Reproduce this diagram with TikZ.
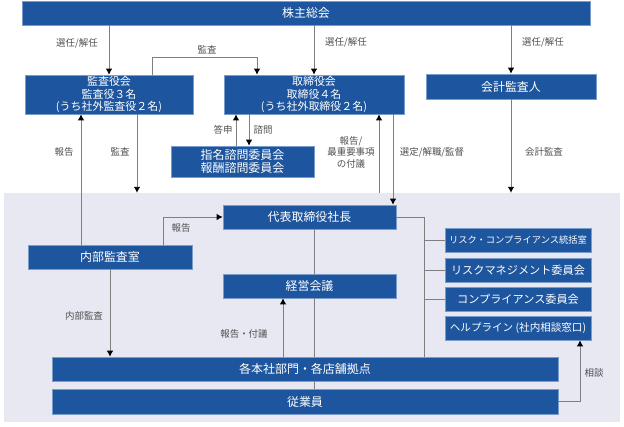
\documentclass[tikz,border=0pt]{standalone}
\usepackage{fontspec}
\newfontfamily\jp{Noto Sans CJK JP}
\usepackage{tikz}
\usetikzlibrary{arrows.meta, positioning}

\definecolor{boxblue}{HTML}{1D559E}
\definecolor{boxedge}{HTML}{7A9CCB}
\definecolor{arealav}{HTML}{E7E8F2}
\definecolor{linegray}{HTML}{7F7F7F}
\definecolor{labelgray}{HTML}{505050}

\tikzset{
  orgbox/.style={draw=boxedge, line width=0.6bp, fill=boxblue, text=white,
    align=center, inner sep=0pt, font=\jp\fontsize{12}{13}\selectfont},
  multibox/.style={orgbox, font=\jp\fontsize{11}{12.5}\selectfont},
  conn/.style={draw=linegray, line width=0.9bp},
  arr/.style={conn, -{Latex[length=6bp,width=6.5bp,color=black]}},
  lbl/.style={text=labelgray, align=center, inner sep=0pt,
    font=\jp\fontsize{9.5}{11.5}\selectfont}
}

\begin{document}
\begin{tikzpicture}[x=1bp, y=-1bp]
  \useasboundingbox (0,0) rectangle (624,426);

  % company area
  \node[fill=arealav, minimum width=616bp, minimum height=229bp, inner sep=0pt] (area) at (312,307.5) {};

  \node[orgbox, minimum width=568bp, minimum height=24bp] (kabunushi) at (306,13) {株主総会};
  \node[multibox, minimum width=168bp, minimum height=39bp] (kansayaku) at (109,94.5) {監査役会\\監査役３名\\(うち社外監査役２名)};
  \node[multibox, minimum width=180bp, minimum height=39bp] (torishimari) at (314,94.5) {取締役会\\取締役４名\\(うち社外取締役２名)};
  \node[orgbox, minimum width=170bp, minimum height=25bp] (kaikei) at (511,86.5) {会計監査人};
  \node[orgbox, minimum width=143bp, minimum height=31bp] (shimon) at (242.5,161.5) {指名諮問委員会\\報酬諮問委員会};
  \node[orgbox, minimum width=173bp, minimum height=24bp] (shacho) at (309.5,217) {代表取締役社長};
  \node[orgbox, minimum width=164bp, minimum height=24bp] (naibu) at (110,257) {内部監査室};
  \node[orgbox, minimum width=173bp, minimum height=24bp] (keiei) at (309.5,286) {経営会議};
  \node[orgbox, minimum width=506bp, minimum height=24bp] (kakubumon) at (305,369) {各本社部門・各店舗拠点};
  \node[orgbox, minimum width=506bp, minimum height=25bp] (jugyoin) at (305,401.5) {従業員};

  \foreach \nm/\y/\sz/\txt in {risk/240/9.3/リスク・コンプライアンス統括室, rm/270/11.2/リスクマネジメント委員会,
      comp/299/11.2/コンプライアンス委員会, help/328/10.6/ヘルプライン (社内相談窓口)}
  {
    \node[orgbox, minimum width=146bp, minimum height=24bp, font=\jp\fontsize{\sz}{13}\selectfont] (\nm) at (518,\y) {\txt};
  }

  % x positions of the vertical connectors
  \coordinate (kansaout) at (152,0);
  \coordinate (kansain) at (257,0);
  \coordinate (hokokuA) at (81,0);
  \coordinate (kansaB) at (137,0);
  \coordinate (toshin) at (236,0);
  \coordinate (shimonx) at (249,0);
  \coordinate (hokokuC) at (379,0);
  \coordinate (sentei) at (393,0);
  \coordinate (hokokuD) at (163,0);
  \coordinate (fugi) at (283,0);
  \coordinate (spine) at (314,0);
  \coordinate (branch) at (424,0);
  \coordinate (sodan) at (580,0);

  \draw[arr] (kabunushi.south -| kansayaku) -- (kansayaku.north);
  \draw[arr] (kabunushi.south -| torishimari) -- (torishimari.north);
  \draw[arr] (kabunushi.south -| kaikei) -- (kaikei.north);
  \draw[arr] (kansaout |- kansayaku.north) -- ++(0,-17) -| (kansain |- torishimari.north);

  \draw[arr] (toshin |- shimon.north) -- (toshin |- torishimari.south);
  \draw[arr] (shimonx |- torishimari.south) -- (shimonx |- shimon.north);

  \draw[arr] (hokokuA |- naibu.north) -- (hokokuA |- kansayaku.south);
  \draw[arr] (kansaB |- kansayaku.south) -- (kansaB |- area.north);
  \draw[arr] (hokokuC |- area.north) -- (hokokuC |- torishimari.south);
  \draw[arr] (sentei |- torishimari.south) -- (sentei |- shacho.north);
  \draw[arr] (kaikei.south) -- (kaikei.south |- area.north);

  \draw[arr] (hokokuD |- naibu.north) |- (shacho.west);
  \draw[arr] (naibu.south) -- (naibu.south |- kakubumon.north);
  \draw[arr] (fugi |- kakubumon.north) -- (fugi |- keiei.south);

  \draw[conn] (spine |- shacho.south) -- (spine |- keiei.north);
  \draw[conn] (spine |- keiei.south) -- (spine |- kakubumon.north);
  \draw[conn] (spine |- kakubumon.south) -- (spine |- jugyoin.north);

  \draw[conn] (shacho.east) -- (branch |- shacho.east) -- (branch |- kakubumon.north);
  \foreach \nm in {risk, rm, comp}
    \draw[conn] (branch |- \nm.west) -- (\nm.west);

  \draw[arr] (jugyoin.east) -| (sodan |- help.south);

  % labels
  \node[lbl] (senninA) at (77,43) {選任/解任};
  \node[lbl] (senninB) at (346,42) {選任/解任};
  \node[lbl] (senninC) at (543,42) {選任/解任};
  \node[lbl] (kansaT) at (207,50) {監査};
  \node[lbl] (toshinL) at (223,129.5) {答申};
  \node[lbl] (shimonL) at (263,129.5) {諮問};
  \node[lbl] (hokokuAL) at (64,152) {報告};
  \node[lbl] (kansaBL) at (120,152) {監査};
  \node[lbl] (hokokuCL) at (351,152) {報告/\\最重要事項\\の付議};
  \node[lbl] (senteiL) at (432,152) {選定/解職/監督};
  \node[lbl] (kaikeiL) at (544,152) {会計監査};
  \node[lbl] (hokokuDL) at (181,228) {報告};
  \node[lbl] (naibuL) at (84,316) {内部監査};
  \node[lbl] (fugiL) at (244,334) {報告・付議};
  \node[lbl] (sodanL) at (594,373) {相談};
\end{tikzpicture}
\end{document}
